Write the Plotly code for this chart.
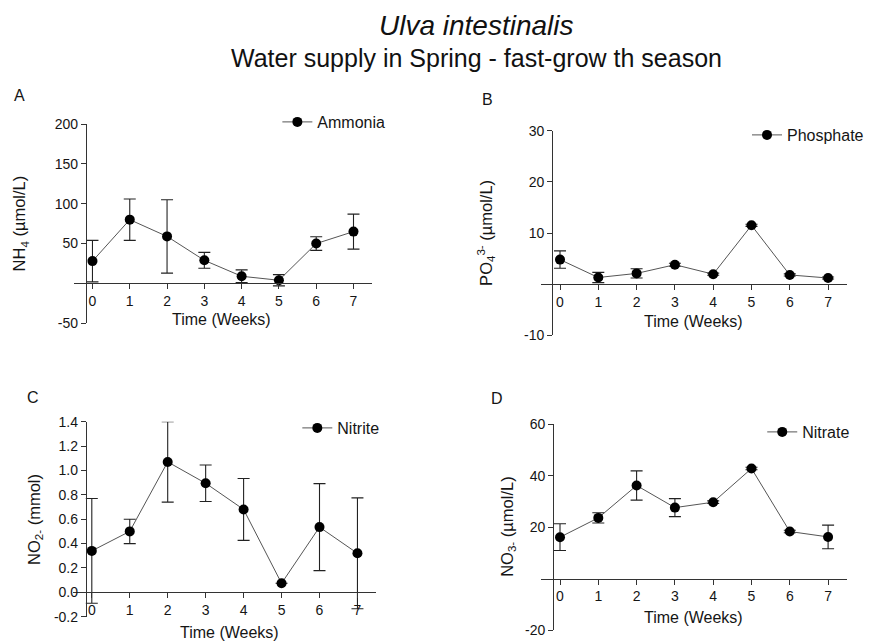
import plotly.graph_objects as go

W, H = 869, 641

# ---------------- data ----------------
weeks = [0, 1, 2, 3, 4, 5, 6, 7]
week_ticks = ["0", "1", "2", "3", "4", "5", "6", "7"]

ammonia_mean = [28, 80, 59, 29, 9, 4, 50, 65]
ammonia_sd = [26, 26, 46, 10, 8, 7, 8.5, 22]

phosphate_mean = [4.8, 1.3, 2.1, 3.8, 1.95, 11.5, 1.8, 1.2]
phosphate_sd = [1.7, 1.0, 0.9, 0.3, 0.2, 0.2, 0.2, 0.2]

nitrite_mean = [0.34, 0.50, 1.07, 0.895, 0.68, 0.074, 0.535, 0.32]
nitrite_sd = [0.43, 0.10, 0.33, 0.15, 0.254, 0.0, 0.357, 0.455]

nitrate_mean = [16.1, 23.6, 36.2, 27.6, 29.7, 42.8, 18.3, 16.2]
nitrate_sd = [5.2, 2.0, 5.7, 3.5, 0.5, 0.5, 0.5, 4.6]

a_ticks = [-50, 50, 100, 150, 200]
a_ticktext = ["-50", "50", "100", "150", "200"]
b_ticks = [-10, 10, 20, 30]
b_ticktext = ["-10", "10", "20", "30"]
c_ticks = [-0.2, 0.0, 0.2, 0.4, 0.6, 0.8, 1.0, 1.2, 1.4]
c_ticktext = ["-0.2", "0.0", "0.2", "0.4", "0.6", "0.8", "1.0", "1.2", "1.4"]
d_ticks = [-20, 20, 40, 60]
d_ticktext = ["-20", "20", "40", "60"]

series_names = ["Ammonia", "Phosphate", "Nitrite", "Nitrate"]
y_titles = ["NH<sub>4</sub> (µmol/L)", "PO<sub>4</sub><sup>3-</sup> (µmol/L)",
            "NO<sub>2-</sub> (mmol)", "NO<sub>3-</sub> (µmol/L)"]
panel_letters = ["A", "B", "C", "D"]
x_title = "Time (Weeks)"
title1 = "<i>Ulva intestinalis</i>"
title2 = "Water supply in Spring - fast-grow th season"

# ---------------- layout (pixel geometry) ----------------
FONT = "Arial, 'Liberation Sans', sans-serif"
TXT = "#151515"
AX = "#333333"

def px_x(p):
    return p / W

def px_y(p):
    return 1 - p / H

panels = [
    dict(mean=ammonia_mean, sd=ammonia_sd, ticks=a_ticks, ticktext=a_ticktext, yr=[-50, 200],
         xdom=(74, 373), ydom=(124, 323.3), yaxis_x=86,
         leg=(278, 105), letter=(20, 95), xt=(222, 319), yt=(20, 223.5)),
    dict(mean=phosphate_mean, sd=phosphate_sd, ticks=b_ticks, ticktext=b_ticktext, yr=[-10, 30],
         xdom=(542.1, 849.2), ydom=(130.7, 335.3), yaxis_x=553.3,
         leg=(749, 118), letter=(489, 100), xt=(695, 321), yt=(487, 233)),
    dict(mean=nitrite_mean, sd=nitrite_sd, ticks=c_ticks, ticktext=c_ticktext, yr=[-0.2, 1.4],
         xdom=(73, 377.3), ydom=(421.7, 616.7), yaxis_x=86,
         leg=(298, 411), letter=(33, 397), xt=(230, 632), yt=(35, 519)),
    dict(mean=nitrate_mean, sd=nitrate_sd, ticks=d_ticks, ticktext=d_ticktext, yr=[-20, 60],
         xdom=(542.1, 849.2), ydom=(424.3, 630), yaxis_x=554.3,
         leg=(764, 415), letter=(498, 399), xt=(695, 617), yt=(509, 527)),
]

fig = go.Figure()
layout = dict(
    width=W, height=H,
    margin=dict(l=0, r=0, t=0, b=0),
    paper_bgcolor="white", plot_bgcolor="white",
    template="none",
    font=dict(family=FONT, color=TXT),
    annotations=[],
)

for i, p in enumerate(panels):
    k = "" if i == 0 else str(i + 1)
    xa, ya = "x" + k, "y" + k
    leg = "legend" + k
    fig.add_trace(go.Scatter(
        x=weeks, y=p["mean"], name=series_names[i], mode="lines+markers",
        xaxis=xa, yaxis=ya, legend=leg, showlegend=True,
        line=dict(color="#555555", width=1),
        marker=dict(color="black", size=10, symbol="circle"),
        error_y=dict(type="data", array=p["sd"], symmetric=True, visible=True,
                     color="#222222", thickness=1.1, width=6),
        cliponaxis=False,
    ))
    ydom = sorted([px_y(p["ydom"][0]), px_y(p["ydom"][1])])
    y0, y1 = p["yr"]
    zero_pos = ydom[0] + (0 - y0) / (y1 - y0) * (ydom[1] - ydom[0])
    layout["xaxis" + k] = dict(
        domain=[px_x(p["xdom"][0]), px_x(p["xdom"][1])],
        range=[-0.5, 7.5], anchor="free", position=zero_pos,
        tickvals=weeks, ticktext=week_ticks,
        showline=True, linecolor=AX, linewidth=1,
        ticks="outside", ticklen=5, tickwidth=1, tickcolor=AX,
        tickfont=dict(size=14, color=TXT, family=FONT),
        showgrid=False, zeroline=False, automargin=False, fixedrange=True,
    )
    layout["yaxis" + k] = dict(
        domain=ydom, range=p["yr"], anchor="free", position=px_x(p["yaxis_x"]),
        tickvals=p["ticks"], ticktext=p["ticktext"],
        showline=True, linecolor=AX, linewidth=1,
        ticks="outside", ticklen=5, tickwidth=1, tickcolor=AX,
        tickfont=dict(size=14, color=TXT, family=FONT),
        showgrid=False, zeroline=False, automargin=False, fixedrange=True,
    )
    layout[leg] = dict(
        x=px_x(p["leg"][0]), y=px_y(p["leg"][1]), xanchor="left", yanchor="top",
        bgcolor="rgba(0,0,0,0)", borderwidth=0,
        font=dict(size=16, color=TXT, family=FONT),
    )
    layout["annotations"] += [
        dict(text=panel_letters[i], x=px_x(p["letter"][0]), y=px_y(p["letter"][1]),
             xref="paper", yref="paper", showarrow=False, xanchor="center", yanchor="middle",
             font=dict(size=16, color=TXT, family=FONT)),
        dict(text=x_title, x=px_x(p["xt"][0]), y=px_y(p["xt"][1]),
             xref="paper", yref="paper", showarrow=False, xanchor="center", yanchor="middle",
             font=dict(size=16, color=TXT, family=FONT)),
        dict(text=y_titles[i], x=px_x(p["yt"][0]), y=px_y(p["yt"][1]), textangle=-90,
             xref="paper", yref="paper", showarrow=False, xanchor="center", yanchor="middle",
             font=dict(size=16.5, color=TXT, family=FONT)),
    ]

layout["annotations"] += [
    dict(text=title1, x=px_x(478), y=px_y(25), xref="paper", yref="paper", showarrow=False,
         xanchor="center", yanchor="middle", font=dict(size=28, color="#111111", family=FONT)),
    dict(text=title2, x=px_x(478), y=px_y(58), xref="paper", yref="paper", showarrow=False,
         xanchor="center", yanchor="middle", font=dict(size=25, color="#111111", family=FONT)),
]

fig.update_layout(**layout)
fig.write_html("out.html")
